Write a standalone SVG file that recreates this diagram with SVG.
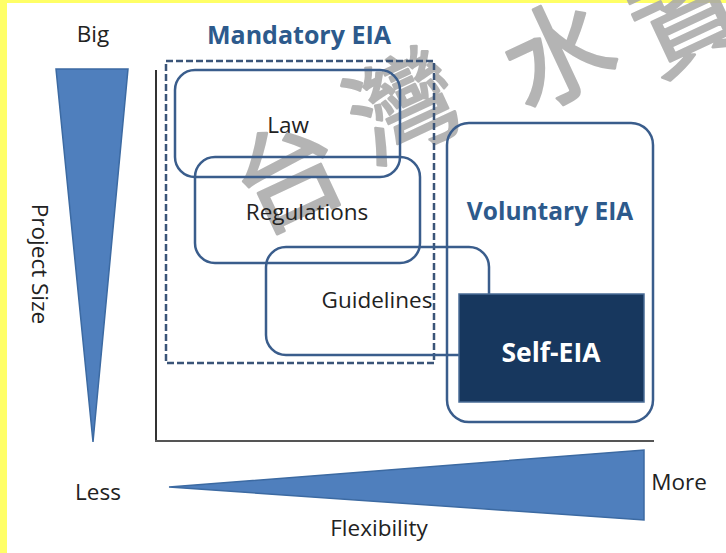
<svg xmlns="http://www.w3.org/2000/svg" width="726" height="553" viewBox="0 0 726 553">
<style>
.lbl{font-family:"Open Sans","Liberation Sans",sans-serif;font-size:22.5px;fill:#222;text-anchor:middle}
.ttl{font-family:"Open Sans","Liberation Sans",sans-serif;font-size:25px;font-weight:bold;fill:#2d5a8c;text-anchor:middle}
.box{fill:none;stroke:#3a5d8c;stroke-width:2.5}
.wedge{fill:#4f7fbd;stroke:#3c6aa2;stroke-width:1.5}
.wm{font-family:"Noto Sans CJK TC","Noto Sans CJK SC",sans-serif;font-size:108px;font-weight:400;fill:#a8a8a8;stroke:#a8a8a8;stroke-width:2.5;stroke-linejoin:round;opacity:0.85;text-anchor:middle}
</style>
<rect width="726" height="553" fill="#fff"/>
<rect x="0" y="0" width="726" height="3" fill="#ffff66"/>
<rect x="0" y="0" width="7" height="553" fill="#ffff66"/>

<g id="watermark">
<text class="wm" transform="translate(305,212) rotate(-25)">台</text>
<text class="wm" transform="translate(420,142) rotate(-25)">灣</text>
<text class="wm" transform="translate(575,90) rotate(-25)">水</text>
<text class="wm" transform="translate(705,55) rotate(-25)">資</text>
</g>

<g id="axes">
<line x1="156" y1="70" x2="156" y2="441" stroke="#333" stroke-width="2"/>
<line x1="155" y1="441" x2="654" y2="441" stroke="#555" stroke-width="2"/>
</g>

<g id="size-wedge">
<polygon class="wedge" points="56,69 128,69 93,442"/>
<text class="lbl" font-size="22" x="93" y="42">Big</text>
<text class="lbl" font-size="17" transform="translate(32,264) rotate(90)">Project Size</text>
</g>

<g id="flex-wedge">
<polygon class="wedge" points="169,487 644,450 644,520"/>
<text class="lbl" font-size="22" x="98" y="500">Less</text>
<text class="lbl" font-size="22" x="679" y="490">More</text>
<text class="lbl" font-size="19" x="379" y="536">Flexibility</text>
</g>

<g id="mandatory">
<rect x="166" y="61" width="268" height="302" fill="none" stroke="#3a5478" stroke-width="2.5" stroke-dasharray="7,3"/>
<text class="ttl" x="299" y="44">Mandatory EIA</text>
</g>

<g id="law">
<rect class="box" x="175" y="70" width="225" height="107" rx="20"/>
<text class="lbl" x="288" y="133">Law</text>
</g>

<g id="regulations">
<rect class="box" x="195" y="157" width="225" height="106" rx="20"/>
<text class="lbl" x="307" y="220">Regulations</text>
</g>

<g id="guidelines">
<rect class="box" x="266" y="247" width="223" height="108" rx="20"/>
<text class="lbl" x="377" y="308">Guidelines</text>
</g>

<g id="voluntary">
<rect class="box" x="447" y="123" width="206" height="299" rx="22"/>
<text class="ttl" x="550" y="220" style="font-size:24.5px">Voluntary EIA</text>
</g>

<g id="self-eia">
<rect x="459" y="294" width="185" height="108" fill="#17375e" stroke="#4a6c96" stroke-width="1.5"/>
<text class="ttl" x="551" y="362" style="fill:#fff;font-size:26.5px">Self-EIA</text>
</g>
</svg>
